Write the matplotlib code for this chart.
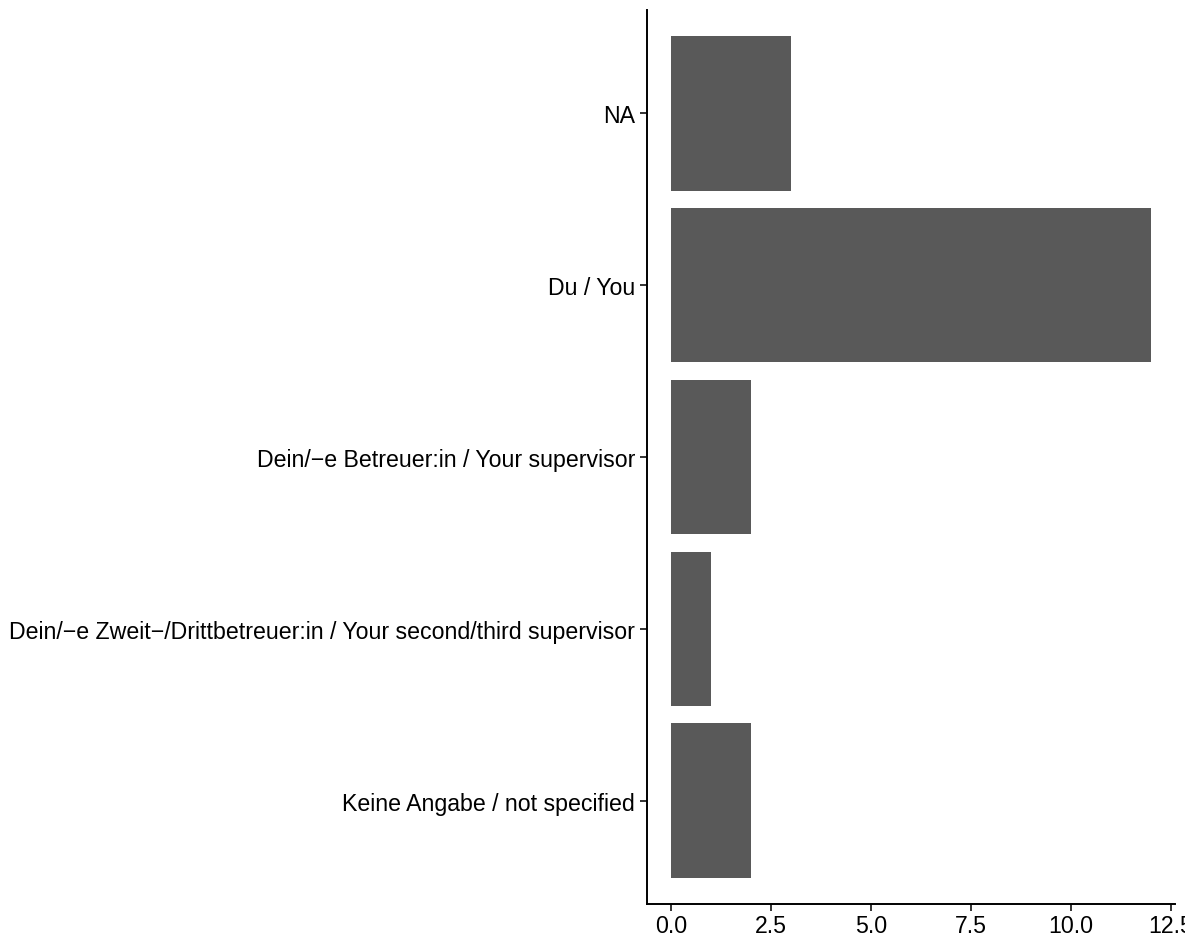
import matplotlib
matplotlib.use("Agg")
import matplotlib.pyplot as plt
from matplotlib.transforms import Bbox, TransformedBbox

plt.rcParams['font.family'] = ['Liberation Sans', 'DejaVu Sans']

categories = [
    "Keine Angabe / not specified",
    "Dein/\u2212e Zweit\u2212/Drittbetreuer:in / Your second/third supervisor",
    "Dein/\u2212e Betreuer:in / Your supervisor",
    "Du / You",
    "NA",
]
counts = [2, 1, 2, 12, 3]
xticks = [0.0, 2.5, 5.0, 7.5, 10.0, 12.5]

W, H = 1196, 937
fig = plt.figure(figsize=(W / 100, H / 100), dpi=100)
ax = fig.add_axes([646.7 / W, 1 - 905 / H, (1174.7 - 646.7) / W, (905 - 11) / H])

pos = list(range(1, len(categories) + 1))
ax.barh(pos, counts, height=0.9, color="#595959")

ax.set_xlim(-0.6, 12.6)
ax.set_ylim(0.4, len(categories) + 0.6)
ax.set_yticks(pos)
ax.set_yticklabels(categories)
ax.set_xticks(xticks)
ax.set_xticklabels([f"{v:.1f}" for v in xticks])

for s in ["top", "right"]:
    ax.spines[s].set_visible(False)
for s in ["left", "bottom"]:
    ax.spines[s].set_linewidth(1.4)
    ax.spines[s].set_color("black")

ax.tick_params(axis="both", length=5, width=1.4, color="#333333",
               labelsize=16.7, labelcolor="black", pad=3.5)
ax.tick_params(axis="x", pad=2)

# the rightmost tick label is cut off in the original
clip = TransformedBbox(Bbox([[0, 0], [1185 / W, 1]]), fig.transFigure)
for lab in ax.get_xticklabels():
    lab.set_clip_on(True)
    lab.set_clip_box(clip)

fig.savefig("out.png", dpi=100)
